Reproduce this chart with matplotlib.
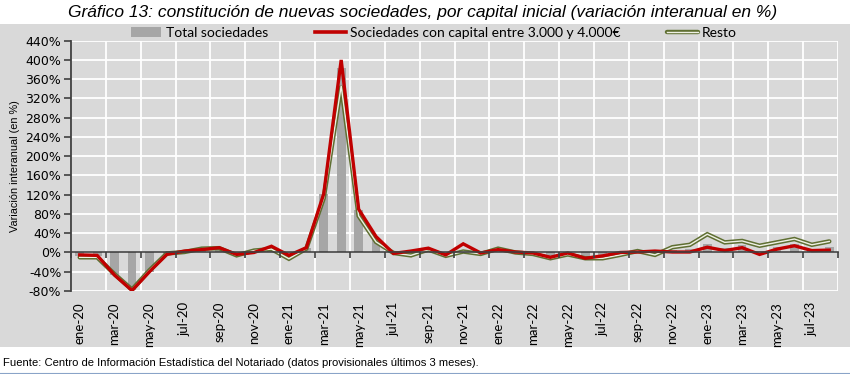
import matplotlib
matplotlib.use("Agg")
import matplotlib.pyplot as plt
import numpy as np
from matplotlib.patches import Rectangle, Patch
from matplotlib.lines import Line2D

months = ["ene", "feb", "mar", "abr", "may", "jun", "jul", "ago", "sep", "oct", "nov", "dic"]
categories = [f"{m}-{y}" for y in ["20", "21", "22"] for m in months] + \
             [f"{m}-23" for m in months[:8]]

total = [-7, -8, -47, -77, -41, -3, 2, 7, 9, -5, 2, 9,
         -10, 9, 122, 383, 88, 27, -2, -2, 7, -6, 6, -2,
         7, 1, -2, -11, -3, -12, -10, -3, 2, 0, 5, 7,
         17, 10, 15, 4, 12, 18, 8, 11]
capital_3_4k = [-5, -6, -47, -79, -40, -4, 3, 6, 10, -4, 0, 13,
                -6, 10, 122, 400, 90, 33, -2, 3, 9, -5, 18, -1,
                6, 1, -1, -10, -1, -12, -7, 0, 1, 3, 1, 1,
                11, 4, 10, -4, 7, 14, 4, 5]
resto = [-10, -10, -45, -77, -37, -2, 1, 8, 9, -6, 4, 7,
         -13, 8, 113, 346, 76, 22, -1, -6, 6, -7, 2, -3,
         8, 0, -3, -12, -4, -12, -12, -5, 3, -5, 11, 16,
         38, 21, 24, 14, 21, 28, 16, 23]

yticks = list(range(-80, 441, 40))
title = "Gráfico 13: constitución de nuevas sociedades, por capital inicial (variación interanual en %)"
source = "Fuente: Centro de Información Estadística del Notariado (datos provisionales últimos 3 meses)."
legend_labels = ["Total sociedades", "Sociedades con capital entre 3.000 y 4.000€", "Resto"]

GREY = "#d9d9d9"
RED = "#c00000"
OLIVE = "#5f6f32"
LIGHT = "#eef0e4"
BAR = "#a6a6a6"
AXC = "#404040"

fig = plt.figure(figsize=(8.5, 3.74), dpi=100)
fig.patch.set_facecolor("white")
fig.patches.append(Rectangle((0, 1 - 347 / 374), 1, (347 - 24) / 374,
                             transform=fig.transFigure, facecolor=GREY,
                             edgecolor="none", zorder=-10))

ax = fig.add_axes([71 / 850, 1 - 291 / 374, (838 - 71) / 850, (291 - 40.7) / 374])
ax.set_facecolor(GREY)

x = np.arange(len(categories))
ax.bar(x, total, width=0.5, color=BAR, zorder=2)
ax.plot(x, resto, color=OLIVE, lw=3.2, zorder=3, solid_capstyle="round", solid_joinstyle="miter")
ax.plot(x, resto, color=LIGHT, lw=1.0, zorder=3.1, solid_joinstyle="miter")
ax.plot(x, capital_3_4k, color=RED, lw=2.4, zorder=4, solid_joinstyle="miter")

ax.set_xlim(-0.5, len(categories) - 0.5)
ax.set_ylim(-80, 440)
ax.set_yticks(yticks)
ax.set_yticklabels([f"{v}%" for v in yticks], fontsize=9, family="DejaVu Sans")
ax.yaxis.grid(True, color="white", lw=1.3)
boundaries = np.arange(-0.5, len(categories), 2)
ax.set_xticks(boundaries, minor=True)
ax.xaxis.grid(True, which="minor", color="white", lw=1.3)
ax.set_axisbelow(True)
ax.set_xticks(x[::2])
ax.set_xticklabels(categories[::2], rotation=90, fontsize=9.5, family="Lato")
ax.tick_params(axis="x", which="both", length=0, pad=8)
ax.tick_params(axis="y", direction="out", length=5, color=AXC, width=1.2, pad=2)
for s in ["top", "right", "bottom"]:
    ax.spines[s].set_visible(False)
ax.spines["left"].set_color(AXC)
ax.spines["left"].set_linewidth(1.3)
ax.set_ylabel("Variación interanual (en %)", fontsize=7.8, family="Liberation Sans", labelpad=4)

# zero axis with tick marks
ax2 = ax.twiny()
ax2.set_xlim(ax.get_xlim())
ax2.set_facecolor("none")
for s in ["top", "right", "left"]:
    ax2.spines[s].set_visible(False)
ax2.spines["bottom"].set_visible(True)
ax2.spines["bottom"].set_position(("data", 0))
ax2.spines["bottom"].set_color(AXC)
ax2.spines["bottom"].set_linewidth(1.2)
ax2.spines["bottom"].set_zorder(2.5)
ax2.xaxis.set_ticks_position("bottom")
ax2.set_xticks(boundaries)
ax2.tick_params(axis="x", direction="out", length=4, color=AXC, width=1.2,
                labelbottom=False, labeltop=False)

handles = [Patch(facecolor=BAR, edgecolor="none"),
           Line2D([], [], color=RED, lw=2.6),
           (Line2D([], [], color=OLIVE, lw=3.2, solid_capstyle="round"),
            Line2D([], [], color=LIGHT, lw=1.0))]
fig.legend(handles, legend_labels, loc="center", bbox_to_anchor=(434 / 850, 1 - 33 / 374),
           ncol=3, frameon=False, handlelength=2.2, handletextpad=0.3,
           columnspacing=3.4, prop={"family": "Lato", "size": 10})

fig.text(423 / 850, 1 - 12 / 374, title, ha="center", va="center",
         fontsize=12.5, style="italic", family="Liberation Sans")
fig.text(3 / 850, 1 - 363 / 374, source, ha="left", va="center",
         fontsize=8.1, family="Liberation Sans")
fig.add_artist(Line2D([0, 1], [0.004, 0.004], transform=fig.transFigure,
                      color="#8aa4c8", lw=0.8))

fig.savefig("out.png", dpi=100)
